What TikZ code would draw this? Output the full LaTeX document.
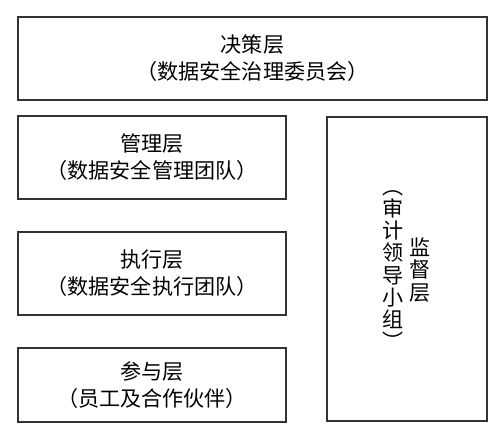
\documentclass[tikz,border=0pt]{standalone}
\usepackage{fontspec}
\setmainfont{Noto Sans CJK SC}
\usepackage{tikz}
\usetikzlibrary{positioning}

\begin{document}
\begin{tikzpicture}[
  font=\fontsize{12}{15.4}\selectfont,
  layerBox/.style={draw=black!80, line width=0.7pt, align=center, inner sep=0pt,
                   minimum width=5.36cm, minimum height=1.66cm},
  colText/.style={align=center, inner sep=0pt, font=\fontsize{12}{12.6}\selectfont},
]
\useasboundingbox (0,0) rectangle (10,-8.62);

\node[layerBox, minimum width=9.38cm] (top) at (5.05,-1.17) {决策层\\（数据安全治理委员会）};

\node[layerBox] (mgmt) at (3.04,-3.15)  {管理层\\（数据安全管理团队）};
\node[layerBox] (exec) at (3.04,-5.47)  {执行层\\（数据安全执行团队）};
\node[layerBox, minimum height=1.48cm] (part) at (3.04,-7.70) {参与层\\（员工及合作伙伴）};

% 监督层：竖排文字
\node[layerBox, minimum width=3.2cm, minimum height=6.08cm] (sup) at (8.14,-5.38) {};
\node[colText] (supB) at (7.86,-5.40) {︵\\审\\计\\领\\导\\小\\组\\︶};
\node[colText] (supA) at (8.40,-5.40) {监\\督\\层};
\end{tikzpicture}
\end{document}
